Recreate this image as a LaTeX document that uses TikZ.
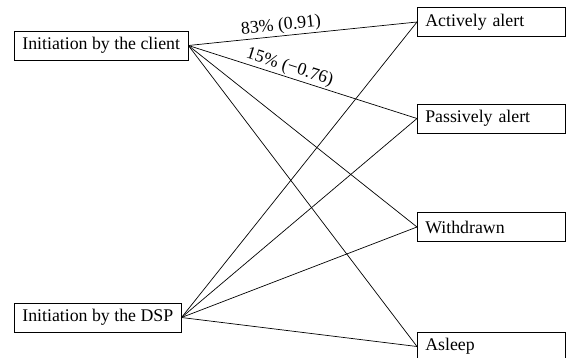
\documentclass[tikz,border=0pt]{standalone}
\usepackage{fontspec}
\setmainfont{Liberation Serif}
\usepackage{tikz}
\usetikzlibrary{positioning}

\tikzset{
  statebox/.style={draw=black, fill=white, rectangle, minimum height=29pt,
    inner xsep=8pt, font=\fontsize{17.8}{20}\selectfont},
  rightbox/.style={statebox, text width=132pt, align=left},
  edgelabel/.style={sloped, above, inner sep=1.5pt, font=\fontsize{17.8}{20}\selectfont}
}

\begin{document}
\begin{tikzpicture}[x=1pt, y=-1pt, line width=0.7pt]
  \useasboundingbox (0,0) rectangle (566,357);

  \node[statebox, anchor=west] (client) at (14,45.5) {Initiation by the client};
  \node[statebox, anchor=west] (dsp) at (14,317.5) {Initiation by the DSP};

  \node[rightbox, anchor=west] (active) at (417,22) {Actively alert};
  \node[rightbox, anchor=west] (passive) at (417,118.5) {Passively alert};
  \node[rightbox, anchor=west] (withdrawn) at (417,227) {Withdrawn};
  \node[rightbox, anchor=west] (asleep) at (417,346.5) {Asleep};

  % labelled paths
  \draw (client.east) -- node[edgelabel, pos=0.41] (lblactive) {83\% (0.91)} (active.west);
  \draw (client.east) -- node[edgelabel, pos=0.43] (lblpassive) {15\% (−0.76)} (passive.west);
  \draw (client.east) -- (withdrawn.west);
  \draw (client.east) -- (asleep.west);

  \foreach \target in {active, passive, withdrawn, asleep}
    \draw (dsp.east) -- (\target.west);
\end{tikzpicture}
\end{document}
